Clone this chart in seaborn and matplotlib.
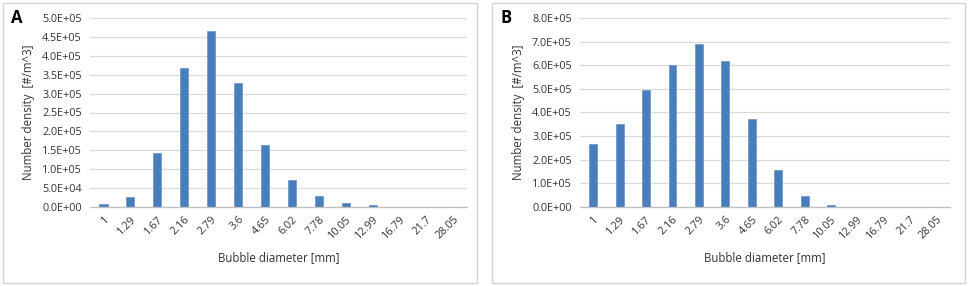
import matplotlib
matplotlib.use("Agg")
import matplotlib.pyplot as plt
import seaborn as sns
import pandas as pd
from matplotlib.patches import Rectangle

diameters = ["1", "1.29", "1.67", "2.16", "2.79", "3.6", "4.65", "6.02", "7.78",
             "10.05", "12.99", "16.79", "21.7", "28.05"]
density_a = [8800, 27400, 143000, 368000, 465500, 327700, 165000, 70700, 30000,
             11500, 5300, 0, 0, 0]
density_b = [267600, 352000, 497000, 601000, 691500, 617000, 373000, 158000, 48000,
             8500, 0, 0, 0, 0]
yticks_a = [0, 50000, 100000, 150000, 200000, 250000, 300000, 350000, 400000, 450000, 500000]
yticks_b = [0, 100000, 200000, 300000, 400000, 500000, 600000, 700000, 800000]

sns.set_theme(style="white")
plt.rcParams['font.family'] = ['Open Sans', 'DejaVu Sans']

W, H = 969, 286
fig = plt.figure(figsize=(W / 100, H / 100), dpi=100)
fig.patch.set_facecolor("white")

def fx(px):
    return px / W

def fy(py):
    return 1 - py / H

panels = [
    ("A", density_a, yticks_a, (90, 467), (3, 477)),
    ("B", density_b, yticks_b, (580, 950), (492, 965)),
]

for letter, vals, yt, (x0, x1), (b0, b1) in panels:
    # panel border
    fig.patches.append(Rectangle((fx(b0), fy(283)), fx(b1 - b0), (280) / H,
                                 transform=fig.transFigure, fill=False,
                                 edgecolor="#d4d4d4", linewidth=1.0))
    ax = fig.add_axes([fx(x0), fy(207), fx(x1 - x0), (207 - 18) / H])
    df = pd.DataFrame({"d": diameters, "n": vals})
    sns.barplot(data=df, x="d", y="n", ax=ax, color="#4a7ebb", width=0.3,
                saturation=1, edgecolor="#6f9bd1", linewidth=0.6)
    ax.set_xlim(-0.5, len(diameters) - 0.5)
    ax.set_ylim(0, yt[-1])
    ax.set_yticks(yt)
    ax.set_yticklabels([f"{v:.1E}" for v in yt])
    ax.yaxis.grid(True, color="#d9d9d9", linewidth=0.9)
    ax.set_axisbelow(True)
    for s in ["top", "right", "left"]:
        ax.spines[s].set_visible(False)
    ax.spines["bottom"].set_color("#bfbfbf")
    ax.spines["bottom"].set_linewidth(0.9)
    ax.tick_params(axis="y", length=0, labelsize=7.8, colors="#333333", pad=6)
    ax.tick_params(axis="x", length=0, labelsize=7.8, colors="#333333", pad=5)
    plt.setp(ax.get_xticklabels(), rotation=45, ha="right", va="top",
             rotation_mode="anchor")
    ax.set_xlabel("Bubble diameter [mm]", fontsize=8.3, color="#333333", labelpad=7)
    ax.set_ylabel("Number density  [#/m^3]", fontsize=8.3, color="#333333", labelpad=5)
    fig.text(fx(b0 + 8), fy(18), letter, fontsize=12, fontweight="bold",
             ha="left", va="center", color="black")

fig.savefig("out.png", dpi=100)
